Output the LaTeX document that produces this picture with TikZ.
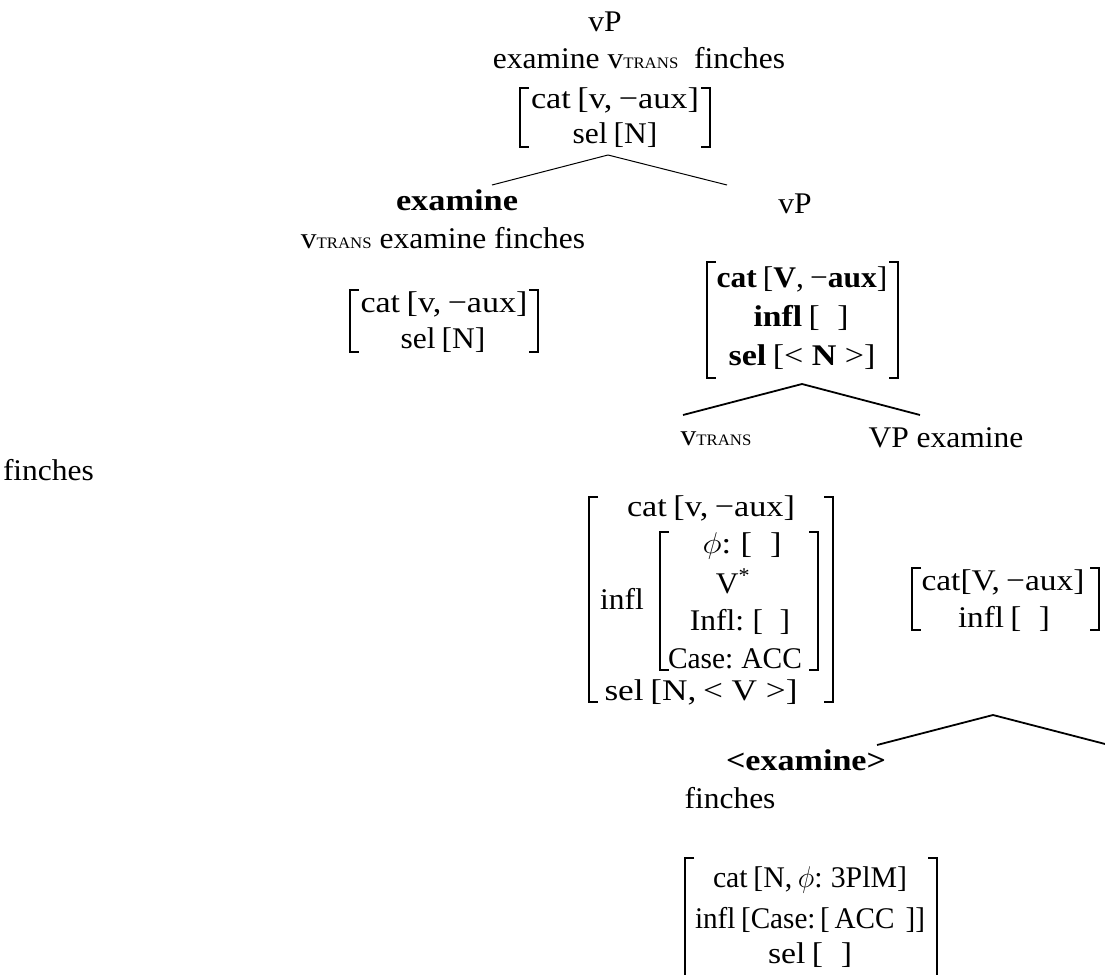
\documentclass[tikz,border=0pt]{standalone}
\usepackage{fix-cm}
\usepackage{graphicx}
\usepackage{fontspec}
\setmainfont{Liberation Serif}[FakeStretch=1.05]
\usetikzlibrary{calc}

% small-capital label used for the transitive little v
\newcommand\vtrans{v{\fontsize{16pt}{16pt}\selectfont TRANS}}
% empty slot inside a bracket
\newcommand\gap{\hspace{0.55em}}
% space next to the relation signs < and >
\newcommand\rsp{\hspace{0.26em}}
% set a line to a given width, keeping its height
\newcommand\fitto[2]{\resizebox{#1}{\height}{#2}}
% text font, and the tighter one used inside feature matrices
\newcommand\basefont{\fontsize{30pt}{36pt}\selectfont}
\newcommand\fsfont{\basefont\spaceskip 0.2em plus 0.05em\relax}

\tikzset{
  txt/.style={anchor=base, inner sep=0pt, outer sep=0pt, font=\basefont},
  fs/.style={anchor=base, inner sep=0pt, outer sep=0pt, font=\fsfont},
  fsbox/.style={inner sep=0pt, outer sep=0pt, draw=none},
  brk/.style={line width=2pt, line cap=butt, line join=miter},
  brkb/.style={line width=2.6pt, line cap=butt, line join=miter},
  branch/.style={line width=1pt},
  branchb/.style={line width=1.8pt},
}

% square brackets on both sides of a feature-structure box
\newcommand\fsbrackets[2]{%
  \draw[#2] ([xshift=9pt]#1.north west) -- (#1.north west)
            -- (#1.south west) -- ([xshift=9pt]#1.south west);
  \draw[#2] ([xshift=-9pt]#1.north east) -- (#1.north east)
            -- (#1.south east) -- ([xshift=-9pt]#1.south east);}

\begin{document}
\begin{tikzpicture}[x=1pt, y=-1pt]
\useasboundingbox (0,0) rectangle (1105,974);
\clip (0,0) rectangle (1105,974);

% ---------- root ----------
\node[txt] (vp1) at (605,32) {vP};
\node[txt] (y1) at (639,68) {examine \vtrans\ \ finches};
\node[fsbox, minimum width=190pt, minimum height=59pt] (m1) at (615,117.5) {};
\fsbrackets{m1}{brk}
\node[fs] (m1a) at (615,108) {\fitto{168pt}{cat [v, −aux]}};
\node[fs] (m1b) at (615,143) {sel [N]};
\coordinate (a1) at (608,155);
\coordinate (l1) at (492,185);
\coordinate (r1) at (727,185);
\draw[branch] (a1) -- (l1);
\draw[branch] (a1) -- (r1);

% ---------- left daughter ----------
\node[txt] (ex1) at (457,210) {\fitto{122pt}{\textbf{examine}}};
\node[txt] (y2) at (443,248) {\vtrans\ examine finches};
\node[fsbox, minimum width=188pt, minimum height=62pt] (m2) at (444,321) {};
\fsbrackets{m2}{brk}
\node[fs] (m2a) at (444,312) {\fitto{167pt}{cat [v, −aux]}};
\node[fs] (m2b) at (443,348) {sel [N]};

% ---------- right daughter ----------
\node[txt] (vp2) at (795,213) {vP};
\node[fsbox, minimum width=191pt, minimum height=116pt] (m3) at (802.5,320) {};
\fsbrackets{m3}{brkb}
\node[fs] (m3a) at (802,287) {\textbf{cat} [\textbf{V}, −\textbf{aux}]};
\node[fs] (m3b) at (801,326) {\fitto{95pt}{\textbf{infl} [\gap]}};
\node[fs] (m3c) at (802,365) {\fitto{147pt}{\textbf{sel} [<\rsp\textbf{N}\rsp>]}};
\coordinate (a2) at (802,384);
\coordinate (l2) at (683,415);
\coordinate (r2) at (920,415);
\draw[branchb] (a2) -- (l2);
\draw[branchb] (a2) -- (r2);

\node[txt] (vtr) at (716,445) {\vtrans};
\node[txt] (vpex) at (946,447) {VP examine};
\node[txt, anchor=base west] (fin0) at (3,480) {finches};

% ---------- little v features ----------
\node[fsbox, minimum width=244pt, minimum height=205pt] (m4) at (711,599.5) {};
\fsbrackets{m4}{brk}
\node[fs] (m4a) at (711,516) {\fitto{168pt}{cat [v, −aux]}};
\node[fs, anchor=base west] (m4b) at (600,609) {infl};
\node[fsbox, minimum width=158pt, minimum height=138pt] (m4i) at (739,601) {};
\fsbrackets{m4i}{brk}
\node[fs] (m4i1) at (742,553) {\fitto{79pt}{$\phi$: [\gap]}};
\node[fs] (m4i2) at (733,593) {V\textsuperscript{*}};
\node[fs] (m4i3) at (740,630) {Infl: [\gap]};
\node[fs] (m4i4) at (735,668) {\fitto{134pt}{Case: ACC}};
\node[fs] (m4c) at (701,700) {\fitto{193pt}{sel [N, <\rsp V\rsp>]}};

% ---------- VP features ----------
\node[fsbox, minimum width=187pt, minimum height=62pt] (m5) at (1005.5,599) {};
\fsbrackets{m5}{brk}
\node[fs] (m5a) at (1003,590) {\fitto{163pt}{cat[V, −aux]}};
\node[fs] (m5b) at (1004,627) {\fitto{92pt}{infl [\gap]}};
\coordinate (a3) at (993,715);
\coordinate (l3) at (877,745);
\coordinate (r3) at (1109,745);
\draw[branchb] (a3) -- (l3);
\draw[branchb] (a3) -- (r3);

% ---------- object ----------
\node[txt] (ex2) at (806,770) {\fitto{160pt}{\textbf{<examine>}}};
\node[txt] (fin2) at (730,808) {finches};
\node[fsbox, minimum width=252pt, minimum height=127pt] (m6) at (811,921.5) {};
\fsbrackets{m6}{brk}
\node[fs] (m6a) at (810,887) {\fitto{194pt}{cat [N, $\phi$: 3PlM]}};
\node[fs] (m6b) at (810,928) {\fitto{230pt}{infl [Case:\,[\,ACC\hspace{0.4em}]]}};
\node[fs] (m6c) at (810,963) {\fitto{84pt}{sel [\gap]}};
\end{tikzpicture}
\end{document}
